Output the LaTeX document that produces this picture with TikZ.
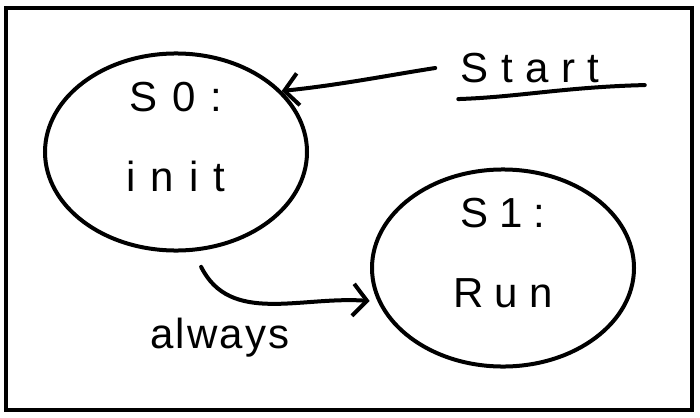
\documentclass[tikz,border=0pt]{standalone}
\usepackage{fontspec}
\setmainfont{Liberation Sans}[LetterSpace=5]
\usetikzlibrary{shapes.geometric,arrows.meta}

\tikzset{
  statenode/.style={draw, ellipse, line width=4pt, minimum width=262pt, minimum height=190pt, align=center, inner sep=0pt, text depth=30pt},
  handtext/.style={inner sep=0pt, font=\fontsize{42}{42}\selectfont},
  widetext/.style={inner sep=0pt, font=\fontsize{42}{42}\selectfont\addfontfeatures{LetterSpace=#1}},
  pen/.style={line width=4pt, line cap=round},
  penarrow/.style={pen, -{Straight Barb[length=14pt,width=32pt,line width=4pt]}}
}

\begin{document}
\begin{tikzpicture}[x=1pt,y=1pt,yscale=-1,xscale=1]
        \useasboundingbox (0,0) rectangle (700,417);

        %Shape: Rectangle [frame]
        \draw [line width=4pt] (6,8) rectangle (692,410);

        %Shape: Ellipse [state S0]
        \node [statenode, widetext=36] (s0) at (176,152) {S0:\\[38pt]init};
        %Shape: Ellipse [state S1]
        \node [statenode, widetext=26] (s1) at (503,268) {S1:\\[38pt]Run};

        % Text Node
        \node [widetext=30] (start) at (530,68) {Start};
        % Text Node
        \node [handtext] (always) at (220,338) {always};

        %Curve Lines [underline]
        \draw [pen] ([xshift=-2pt,yshift=16pt]start.south west) .. controls +(60,-2) and +(-80,2) .. ([xshift=45pt,yshift=2pt]start.south east);

        %Curve Lines [entry arrow]
        \draw [penarrow] ([xshift=-25pt]start.west) .. controls (390,75) and (340,85) .. (s0.30);
        %Curve Lines [always arrow]
        \draw [penarrow, shorten <=17pt, shorten >=8pt] (s0.-80) .. controls (230,325) and (300,296) .. (s1.195);
\end{tikzpicture}
\end{document}
